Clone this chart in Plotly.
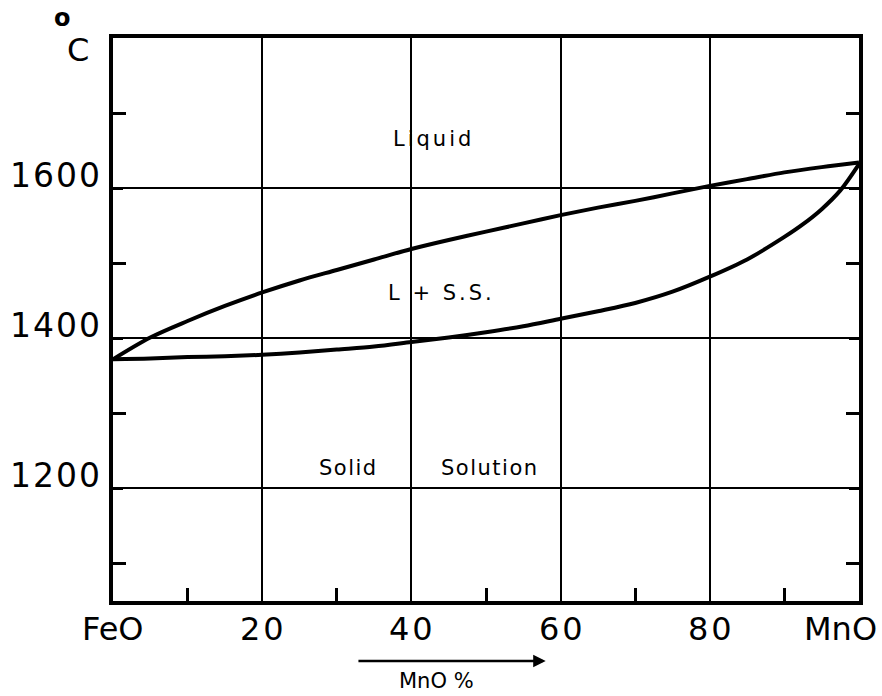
import plotly.graph_objects as go

# ---- data ----
liq_x = [0, 5, 10, 15, 20, 25, 30, 35, 40, 45, 50, 55, 60, 65, 70, 75, 80, 85, 90, 95, 100]
liq_T = [1372, 1401, 1423, 1443, 1461, 1477, 1491, 1505, 1519, 1531, 1542, 1553, 1564, 1574,
         1583, 1593, 1603, 1612, 1621, 1628, 1634]

sol_x = [0, 5, 10, 15, 20, 25, 30, 35, 40, 45, 50, 55, 60, 65, 70, 75, 80, 85, 90,
         92.5, 95, 97.5, 100]
sol_T = [1372, 1373, 1375, 1376, 1378, 1381, 1385, 1389, 1395, 1401, 1408, 1416, 1426, 1436,
         1447, 1462, 1482, 1505, 1535, 1552, 1572, 1597, 1632]

x_tick_vals = [0, 20, 40, 60, 80, 97.5]
x_tick_text = ["FeO", "20", "40", "60", "80", "MnO"]
x_minor = [10, 30, 50, 70, 90]
y_tick_vals = [1200, 1400, 1600]
y_tick_text = ["1200", "1400", "1600"]
y_minor = [1100, 1300, 1500, 1700]

region_labels = ["Liquid", "L + S.S.", "Solid", "Solution"]
region_x = [42.7, 43.9, 31.5, 50.4]
region_T = [1666, 1460, 1227, 1227]
region_spacing = [3, 3, 1.5, 1.5]

FONT = "DejaVu Sans"


def spaced(text, px):
    return f'<span style="letter-spacing:{px}px">{text}</span>'


fig = go.Figure()
fig.add_trace(go.Scatter(x=liq_x, y=liq_T, mode="lines",
                         line=dict(color="black", width=4, shape="spline", smoothing=0.9),
                         showlegend=False, hoverinfo="skip"))
fig.add_trace(go.Scatter(x=sol_x, y=sol_T, mode="lines",
                         line=dict(color="black", width=4, shape="spline", smoothing=0.9),
                         showlegend=False, hoverinfo="skip"))

annotations = []
for v, t in zip(y_tick_vals, y_tick_text):
    annotations.append(dict(x=0, y=v, xref="x", yref="y", text=spaced(t, 2), showarrow=False,
                            xanchor="right", yanchor="bottom", xshift=-9, yshift=-9,
                            font=dict(family=FONT, size=33, color="black")))
for v, t in zip(x_tick_vals, x_tick_text):
    annotations.append(dict(x=v, y=0, xref="x", yref="paper",
                            text=spaced(t, 3) if t.isdigit() else t, showarrow=False,
                            xanchor="center", yanchor="middle", yshift=-28,
                            xshift=1.5 if t.isdigit() else 0,
                            font=dict(family=FONT, size=32, color="black")))
for t, xv, yv, ls in zip(region_labels, region_x, region_T, region_spacing):
    annotations.append(dict(x=xv, y=yv, xref="x", yref="y", text=spaced(t, ls), showarrow=False,
                            xanchor="center", yanchor="middle", xshift=ls / 2,
                            font=dict(family=FONT, size=21, color="black")))
# degree C
annotations.append(dict(x=-0.047, y=1.0, xref="paper", yref="paper", text="C",
                        showarrow=False, xanchor="center", yanchor="middle", yshift=-12,
                        font=dict(family=FONT, size=32, color="black")))
annotations.append(dict(x=-0.068, y=1.0, xref="paper", yref="paper", text="<b>o</b>",
                        showarrow=False, xanchor="center", yanchor="middle", yshift=20,
                        font=dict(family=FONT, size=24, color="black")))
# arrow and axis title
annotations.append(dict(x=58, y=0, xref="x", yref="paper", ax=32.7, ay=0, axref="x",
                        ayref="pixel", text="", showarrow=True, arrowhead=2, arrowsize=1,
                        arrowwidth=2.5, arrowcolor="black", yshift=-60))
annotations.append(dict(x=43.3, y=0, xref="x", yref="paper", text="MnO %",
                        showarrow=False, xanchor="center", yanchor="middle", yshift=-80,
                        font=dict(family=FONT, size=21, color="black")))

fig.update_layout(
    width=882, height=696,
    margin=dict(l=113, r=23, t=38, b=95),
    paper_bgcolor="white", plot_bgcolor="white",
    annotations=annotations,
    xaxis=dict(range=[0, 100], showline=True, linewidth=4, linecolor="black", mirror=True,
               tickvals=[20, 40, 60, 80], showticklabels=False, ticks="",
               showgrid=True, gridcolor="black", gridwidth=1.5, zeroline=False,
               minor=dict(tickvals=x_minor, ticks="inside", ticklen=13, tickwidth=3,
                          tickcolor="black", showgrid=False)),
    yaxis=dict(range=[1050, 1800], showline=True, linewidth=4, linecolor="black", mirror="ticks",
               tickvals=y_tick_vals, showticklabels=False, ticks="inside", ticklen=10,
               tickwidth=3, tickcolor="black",
               showgrid=True, gridcolor="black", gridwidth=1.5, zeroline=False,
               minor=dict(tickvals=y_minor, ticks="inside", ticklen=13, tickwidth=3,
                          tickcolor="black", showgrid=False)),
)

fig.write_html("out.html")
